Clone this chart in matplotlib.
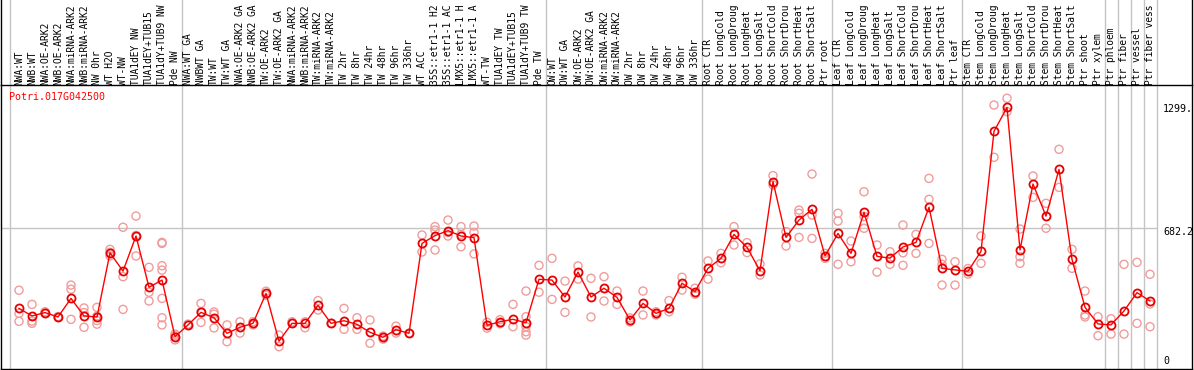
import numpy as np
import matplotlib
matplotlib.use('Agg')
import matplotlib.pyplot as plt

plt.rcParams['font.family'] = ['DejaVu Sans Mono']

gene = 'Potri.017G042500'

samples = [
    'NWA:WT', 'NWB:WT', 'NWA:OE-ARK2', 'NWB:OE-ARK2', 'NWA:miRNA-ARK2', 'NWB:miRNA-ARK2',
    'NW 0hr', 'WT H2O', 'WT-NW', 'TUA1dEY NW', 'TUA1dEY+TUB15 NW', 'TUA1dY+TUB9 NW', 'Pde NW',
    'NWA:WT GA', 'NWBWT GA', 'TW:WT', 'TW:WT GA', 'NWA:OE-ARK2 GA', 'NWB:OE-ARK2 GA',
    'TW:OE-ARK2', 'TW:OE-ARK2 GA', 'NWA:miRNA-ARK2', 'NWB:miRNA-ARK2', 'TW:miRNA-ARK2',
    'TW:miRNA-ARK2', 'TW 2hr', 'TW 8hr', 'TW 24hr', 'TW 48hr', 'TW 96hr', 'TW 336hr', 'WT ACC',
    '35S::etr1-1 H2O', '35S::etr1-1 ACC', 'LMX5::etr1-1 H2O', 'LMX5::etr1-1 ACC', 'WT-TW',
    'TUA1dEY TW', 'TUA1dEY+TUB15 TW', 'TUA1dY+TUB9 TW', 'Pde TW',
    'OW:WT', 'OW:WT GA', 'OW:OE-ARK2', 'OW:OE-ARK2 GA', 'OW:miRNA-ARK2', 'OW:miRNA-ARK2',
    'OW 2hr', 'OW 8hr', 'OW 24hr', 'OW 48hr', 'OW 96hr', 'OW 336hr',
    'Root CTR', 'Root LongCold', 'Root LongDrought', 'Root LongHeat', 'Root LongSalt',
    'Root ShortCold', 'Root ShortDrought', 'Root ShortHeat', 'Root ShortSalt', 'Ptr root',
    'Leaf CTR', 'Leaf LongCold', 'Leaf LongDrought', 'Leaf LongHeat', 'Leaf LongSalt',
    'Leaf ShortCold', 'Leaf ShortDrought', 'Leaf ShortHeat', 'Leaf ShortSalt', 'Ptr leaf',
    'Stem CTR', 'Stem LongCold', 'Stem LongDrought', 'Stem LongHeat', 'Stem LongSalt',
    'Stem ShortCold', 'Stem ShortDrought', 'Stem ShortHeat', 'Stem ShortSalt',
    'Ptr shoot', 'Ptr xylem', 'Ptr phloem', 'Ptr fiber', 'Ptr vessel', 'Ptr fiber vessel',
]

# mean expression (the red line)
means = [
    279, 241, 258, 236, 329, 241, 236, 558, 466, 642, 385, 421, 137,
    196, 259, 232, 154, 184, 204, 354, 114, 204, 204, 294, 204, 217, 199, 159, 134, 172,
    154, 605, 644, 669, 642, 634, 194, 212, 224, 207, 425,
    421, 336, 461, 336, 380, 334, 221, 304, 254, 279, 405, 363,
    480, 530, 650, 585, 468, 915, 635, 722, 776, 542,
    655, 555, 761, 540, 531, 587, 610, 786, 480, 472,
    465, 565, 1167, 1287, 572, 903, 742, 976, 525, 284, 201,
    196, 266, 358, 316,
]

# single replicates (light circles)
reps = [
    [370, 254, 214], [299, 215, 204], [262, 255, 258], [238, 234], [396, 375, 224],
    [281, 258, 184], [284, 240, 218, 200], [575, 542, 560], [686, 438, 274], [742, 542, 645],
    [485, 360, 316], [610, 605, 493, 471, 329, 232, 196], [141, 121, 150],
    [196, 200], [304, 209, 262], [261, 181, 250], [196, 112], [212, 155], [212, 196],
    [365, 345], [145, 87], [212, 204], [212, 182], [318, 271], [204], [279, 174],
    [232, 174], [221, 104], [140, 125], [190, 155], [154], [647, 562], [689, 572, 672],
    [722, 642, 660], [689, 588, 650], [692, 660, 552], [209, 180], [222, 202], [299, 187],
    [366, 237, 187, 162, 145], [495, 360],
    [530, 324], [416, 259], [492, 426], [430, 236], [438, 316], [366, 299], [231, 211],
    [366, 246], [262, 246], [318, 262], [435, 371], [380, 350],
    [517, 426], [555, 508], [689, 597], [609, 559], [502, 446], [945, 898], [664, 592],
    [772, 756, 635], [953, 747, 630], [555, 530],
    [756, 717, 500], [617, 513], [864, 740, 681], [597, 461], [563, 500], [697, 558, 495],
    [650, 555], [931, 826, 605], [525, 396, 500], [513, 396],
    [479, 451], [642, 505], [1299, 1037], [1333, 1266], [677, 538, 505], [943, 836],
    [806, 681], [1077, 886], [575, 480], [366, 246, 236], [237, 142],
    [227, 150], [500, 150], [510, 204], [450, 301, 187],
]

group_edges = [-0.69, 12.5, 40.5, 52.5, 62.5, 72.5, 83.5, 84.5, 85.5, 86.5, 87.5]
ytick_vals = [0, 682.2, 1299]
ytick_text = ['0', '682.2', '1299.']

W, H = 1194, 370
fig = plt.figure(figsize=(W / 100, H / 100), dpi=100)
ax = fig.add_axes([1 / W, 1 - 369 / H, 1191 / W, 284 / H])

x = np.arange(len(samples))
ax.set_xlim((1 - 19) / 13, (1192 - 19) / 13)
ax.set_ylim(-25.1, 1399.6)
ax.set_xticks([])
ax.set_yticks([])
for s in ax.spines.values():
    s.set_linewidth(1.0)
    s.set_color('black')

# group separators, drawn through the label strip too
for e in group_edges:
    ax.axvline(e, ymin=0, ymax=1 + 85 / 284, color='#c4c4c4', lw=1, clip_on=False, zorder=0)
ax.hlines(682.2, ax.get_xlim()[0], (1157 - 19) / 13, color='#c4c4c4', lw=1, zorder=0)

# frame of the label strip
ax.axvline(ax.get_xlim()[0], ymin=1, ymax=1.31, color='black', lw=1, clip_on=False)
ax.axvline(ax.get_xlim()[1], ymin=1, ymax=1.31, color='black', lw=1, clip_on=False)

rx = np.concatenate([[i] * len(r) for i, r in enumerate(reps)])
ry = np.concatenate(reps)
ax.scatter(rx, ry, s=34, facecolors='none', edgecolors='#f09c9c', linewidths=1.0, zorder=2)
ax.plot(x, means, color='#ff0000', lw=1, marker='o', ms=5.8, mfc='none',
        mec='#e80000', mew=1.3, zorder=3)

# the strip only has room for ~14 characters
for i, name in enumerate(samples):
    ax.text(i, 1.0, name[:14].rstrip(), transform=ax.get_xaxis_transform(), rotation=90,
            ha='center', va='bottom', fontsize=6.9, clip_on=False)

for v, t in zip(ytick_vals, ytick_text):
    off = 2 if v == 0 else -3
    ax.annotate(t, xy=((1163 - 19) / 13, v), xytext=(0, off), textcoords='offset points',
                ha='left', va='center', fontsize=7.2)

fig.text(9 / W, 1 - 97 / H, gene, color='#ff0000', fontsize=7.2, ha='left', va='center')

fig.savefig('out.png', dpi=100)
